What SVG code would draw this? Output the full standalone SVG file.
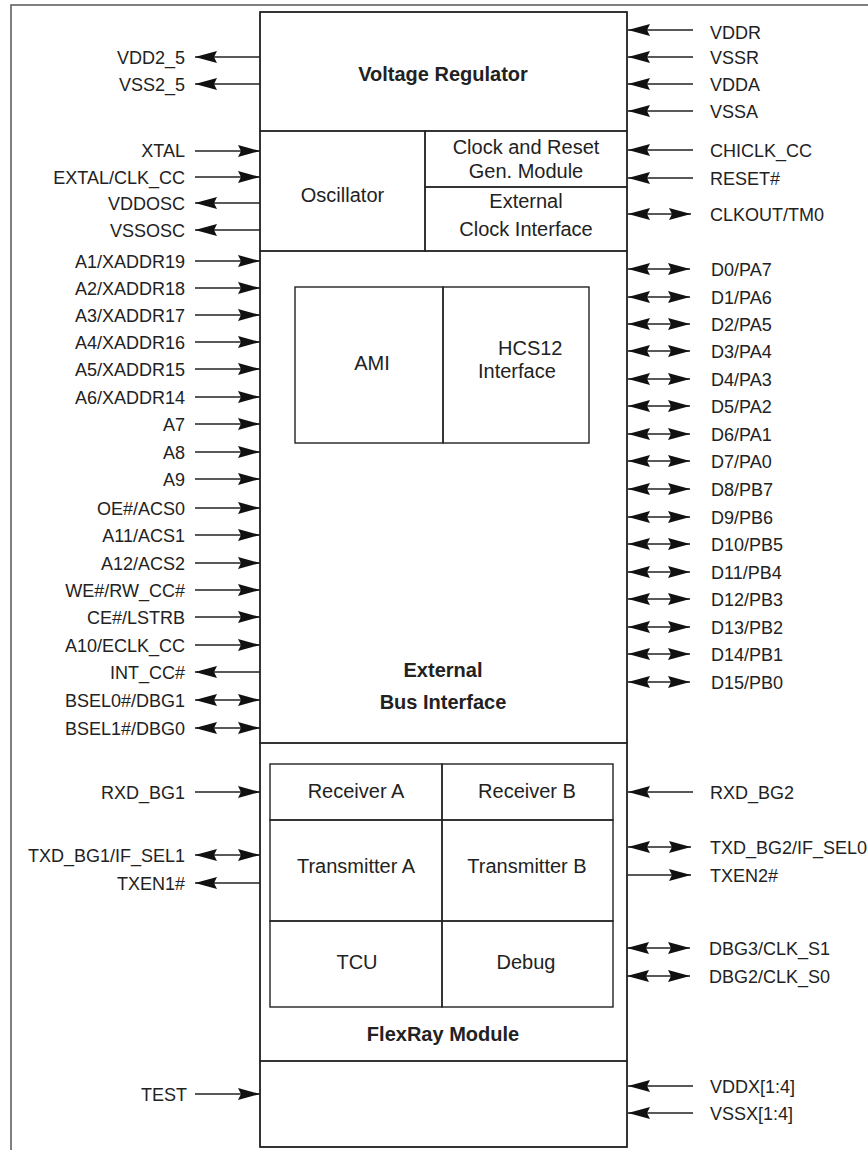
<svg xmlns="http://www.w3.org/2000/svg" width="868" height="1150" viewBox="0 0 868 1150">
<defs>
<marker id="ah" viewBox="0 0 22 12" markerWidth="22" markerHeight="12" refX="22" refY="6" markerUnits="userSpaceOnUse" orient="auto-start-reverse">
<path d="M0,0 L22,6 L0,12 L3,6 Z" fill="#111"/>
</marker>
<style>
.box{fill:none;stroke:#222;stroke-width:1.4}
.frame{fill:none;stroke:#555;stroke-width:1.5}
.t{font-family:"Liberation Sans",Arial,sans-serif;font-size:20px;fill:#222;text-anchor:middle}
.b{font-weight:bold}
.pl{font-family:"Liberation Sans",Arial,sans-serif;font-size:18px;fill:#222;text-anchor:end}
.pr{font-family:"Liberation Sans",Arial,sans-serif;font-size:18px;fill:#222;text-anchor:start}
.c{stroke:#222;stroke-width:1.3;fill:none}
.in{marker-end:url(#ah)}
.bi{marker-start:url(#ah);marker-end:url(#ah)}
</style>
</defs>
<rect width="868" height="1150" fill="#fff"/>
<g id="frame"><path class="frame" d="M11,1150 V5 H868"/></g>
<g id="chip"><rect class="box" x="260" y="12" width="367" height="1135"/></g>
<g id="voltage-regulator">
<rect class="box" x="260" y="12" width="367" height="119"/>
<text class="t b" x="443" y="81">Voltage Regulator</text>
</g>
<g id="oscillator">
<rect class="box" x="260" y="131" width="165" height="120"/>
<text class="t" x="342.5" y="202">Oscillator</text>
</g>
<g id="clock-reset-gen">
<rect class="box" x="425" y="131" width="202" height="56"/>
<text class="t" x="526" y="154">Clock and Reset</text>
<text class="t" x="526" y="178">Gen. Module</text>
</g>
<g id="external-clock-interface">
<rect class="box" x="425" y="187" width="202" height="64"/>
<text class="t" x="526" y="208">External</text>
<text class="t" x="526" y="236">Clock Interface</text>
</g>
<g id="external-bus-interface">
<rect class="box" x="260" y="251" width="367" height="492"/>
<text class="t b" x="443" y="677">External</text>
<text class="t b" x="443" y="709">Bus Interface</text>
</g>
<g id="ami">
<rect class="box" x="295" y="287" width="148" height="156"/>
<text class="t" x="372" y="370">AMI</text>
</g>
<g id="hcs12-interface">
<rect class="box" x="443" y="287" width="146" height="156"/>
<text class="t" x="498" y="355" style="text-anchor:start">HCS12</text>
<text class="t" x="478" y="378" style="text-anchor:start">Interface</text>
</g>
<g id="flexray-module">
<rect class="box" x="260" y="743" width="367" height="318"/>
<text class="t b" x="443" y="1041">FlexRay Module</text>
</g>
<g id="receiver-a"><rect class="box" x="270" y="764" width="172" height="56"/><text class="t" x="356" y="798">Receiver A</text></g>
<g id="receiver-b"><rect class="box" x="442" y="764" width="171" height="56"/><text class="t" x="527" y="798">Receiver B</text></g>
<g id="transmitter-a"><rect class="box" x="270" y="820" width="172" height="101"/><text class="t" x="356" y="873">Transmitter A</text></g>
<g id="transmitter-b"><rect class="box" x="442" y="820" width="171" height="101"/><text class="t" x="527" y="873">Transmitter B</text></g>
<g id="tcu"><rect class="box" x="270" y="921" width="172" height="86"/><text class="t" x="357" y="969">TCU</text></g>
<g id="debug"><rect class="box" x="442" y="921" width="171" height="86"/><text class="t" x="526" y="969">Debug</text></g>
<g id="test-block"><rect class="box" x="260" y="1061" width="367" height="86"/></g>
<g id="connectors">
<line class="c in" x1="260" y1="57" x2="195" y2="57"/>
<line class="c in" x1="260" y1="84" x2="195" y2="84"/>
<line class="c in" x1="195" y1="151" x2="260" y2="151"/>
<line class="c in" x1="195" y1="177" x2="260" y2="177"/>
<line class="c in" x1="260" y1="203" x2="195" y2="203"/>
<line class="c in" x1="260" y1="230" x2="195" y2="230"/>
<line class="c in" x1="195" y1="261" x2="260" y2="261"/>
<line class="c in" x1="195" y1="288" x2="260" y2="288"/>
<line class="c in" x1="195" y1="315" x2="260" y2="315"/>
<line class="c in" x1="195" y1="342" x2="260" y2="342"/>
<line class="c in" x1="195" y1="369" x2="260" y2="369"/>
<line class="c in" x1="195" y1="397" x2="260" y2="397"/>
<line class="c in" x1="195" y1="424" x2="260" y2="424"/>
<line class="c in" x1="195" y1="452" x2="260" y2="452"/>
<line class="c in" x1="195" y1="479" x2="260" y2="479"/>
<line class="c in" x1="195" y1="508" x2="260" y2="508"/>
<line class="c in" x1="195" y1="535" x2="260" y2="535"/>
<line class="c in" x1="195" y1="563" x2="260" y2="563"/>
<line class="c in" x1="195" y1="590" x2="260" y2="590"/>
<line class="c in" x1="195" y1="617" x2="260" y2="617"/>
<line class="c in" x1="195" y1="645" x2="260" y2="645"/>
<line class="c in" x1="260" y1="672" x2="195" y2="672"/>
<line class="c bi" x1="195" y1="700" x2="260" y2="700"/>
<line class="c bi" x1="195" y1="728" x2="260" y2="728"/>
<line class="c in" x1="195" y1="792" x2="260" y2="792"/>
<line class="c bi" x1="195" y1="855" x2="260" y2="855"/>
<line class="c in" x1="260" y1="883" x2="195" y2="883"/>
<line class="c in" x1="195" y1="1094" x2="260" y2="1094"/>
<line class="c in" x1="693" y1="30" x2="628" y2="30"/>
<line class="c in" x1="693" y1="57" x2="628" y2="57"/>
<line class="c in" x1="693" y1="84" x2="628" y2="84"/>
<line class="c in" x1="693" y1="111" x2="628" y2="111"/>
<line class="c in" x1="693" y1="150" x2="628" y2="150"/>
<line class="c in" x1="693" y1="178" x2="628" y2="178"/>
<line class="c bi" x1="628" y1="214" x2="691" y2="214"/>
<line class="c bi" x1="628" y1="269" x2="690" y2="269"/>
<line class="c bi" x1="628" y1="297" x2="690" y2="297"/>
<line class="c bi" x1="628" y1="324" x2="690" y2="324"/>
<line class="c bi" x1="628" y1="351" x2="690" y2="351"/>
<line class="c bi" x1="628" y1="379" x2="690" y2="379"/>
<line class="c bi" x1="628" y1="406" x2="690" y2="406"/>
<line class="c bi" x1="628" y1="434" x2="690" y2="434"/>
<line class="c bi" x1="628" y1="461" x2="690" y2="461"/>
<line class="c bi" x1="628" y1="489" x2="690" y2="489"/>
<line class="c bi" x1="628" y1="517" x2="690" y2="517"/>
<line class="c bi" x1="628" y1="544" x2="690" y2="544"/>
<line class="c bi" x1="628" y1="572" x2="690" y2="572"/>
<line class="c bi" x1="628" y1="599" x2="690" y2="599"/>
<line class="c bi" x1="628" y1="627" x2="690" y2="627"/>
<line class="c bi" x1="628" y1="654" x2="690" y2="654"/>
<line class="c bi" x1="628" y1="682" x2="690" y2="682"/>
<line class="c in" x1="693" y1="792" x2="628" y2="792"/>
<line class="c bi" x1="628" y1="847" x2="691" y2="847"/>
<line class="c in" x1="628" y1="875" x2="691" y2="875"/>
<line class="c bi" x1="627" y1="948" x2="690" y2="948"/>
<line class="c bi" x1="627" y1="976" x2="690" y2="976"/>
<line class="c in" x1="693" y1="1086" x2="628" y2="1086"/>
<line class="c in" x1="693" y1="1113" x2="628" y2="1113"/>
</g>
<g id="pin-labels">
<text class="pl" x="185" y="63.5">VDD2_5</text>
<text class="pl" x="185" y="90.5">VSS2_5</text>
<text class="pl" x="185" y="157">XTAL</text>
<text class="pl" x="185" y="183.5">EXTAL/CLK_CC</text>
<text class="pl" x="185" y="209.5">VDDOSC</text>
<text class="pl" x="185" y="236.5">VSSOSC</text>
<text class="pl" x="185" y="267.5">A1/XADDR19</text>
<text class="pl" x="185" y="294.5">A2/XADDR18</text>
<text class="pl" x="185" y="321.5">A3/XADDR17</text>
<text class="pl" x="185" y="348.5">A4/XADDR16</text>
<text class="pl" x="185" y="375.5">A5/XADDR15</text>
<text class="pl" x="185" y="403.5">A6/XADDR14</text>
<text class="pl" x="185" y="430.5">A7</text>
<text class="pl" x="185" y="458.5">A8</text>
<text class="pl" x="185" y="485.5">A9</text>
<text class="pl" x="185" y="514.5">OE#/ACS0</text>
<text class="pl" x="185" y="541.5">A11/ACS1</text>
<text class="pl" x="185" y="569.5">A12/ACS2</text>
<text class="pl" x="185" y="596.5">WE#/RW_CC#</text>
<text class="pl" x="185" y="623.5">CE#/LSTRB</text>
<text class="pl" x="185" y="651.5">A10/ECLK_CC</text>
<text class="pl" x="185" y="678.5">INT_CC#</text>
<text class="pl" x="185" y="706.5">BSEL0#/DBG1</text>
<text class="pl" x="185" y="734.5">BSEL1#/DBG0</text>
<text class="pl" x="185" y="798.5">RXD_BG1</text>
<text class="pl" x="185" y="861.5">TXD_BG1/IF_SEL1</text>
<text class="pl" x="185" y="889.5">TXEN1#</text>
<text class="pl" x="187" y="1100.5">TEST</text>
<text class="pr" x="710" y="38.5">VDDR</text>
<text class="pr" x="710" y="63.5">VSSR</text>
<text class="pr" x="710" y="90.5">VDDA</text>
<text class="pr" x="710" y="117.5">VSSA</text>
<text class="pr" x="710" y="156.5">CHICLK_CC</text>
<text class="pr" x="710" y="184.5">RESET#</text>
<text class="pr" x="710" y="220.5">CLKOUT/TM0</text>
<text class="pr" x="711" y="275.5">D0/PA7</text>
<text class="pr" x="711" y="303.5">D1/PA6</text>
<text class="pr" x="711" y="330.5">D2/PA5</text>
<text class="pr" x="711" y="357.5">D3/PA4</text>
<text class="pr" x="711" y="385.5">D4/PA3</text>
<text class="pr" x="711" y="412.5">D5/PA2</text>
<text class="pr" x="711" y="440.5">D6/PA1</text>
<text class="pr" x="711" y="467.5">D7/PA0</text>
<text class="pr" x="711" y="495.5">D8/PB7</text>
<text class="pr" x="711" y="523.5">D9/PB6</text>
<text class="pr" x="711" y="550.5">D10/PB5</text>
<text class="pr" x="711" y="578.5">D11/PB4</text>
<text class="pr" x="711" y="605.5">D12/PB3</text>
<text class="pr" x="711" y="633.5">D13/PB2</text>
<text class="pr" x="711" y="660.5">D14/PB1</text>
<text class="pr" x="711" y="688.5">D15/PB0</text>
<text class="pr" x="710" y="798.5">RXD_BG2</text>
<text class="pr" x="710" y="853.5">TXD_BG2/IF_SEL0</text>
<text class="pr" x="710" y="881.5">TXEN2#</text>
<text class="pr" x="709" y="954.5">DBG3/CLK_S1</text>
<text class="pr" x="709" y="982.5">DBG2/CLK_S0</text>
<text class="pr" x="710" y="1092.5">VDDX[1:4]</text>
<text class="pr" x="710" y="1119.5">VSSX[1:4]</text>
</g>
</svg>
